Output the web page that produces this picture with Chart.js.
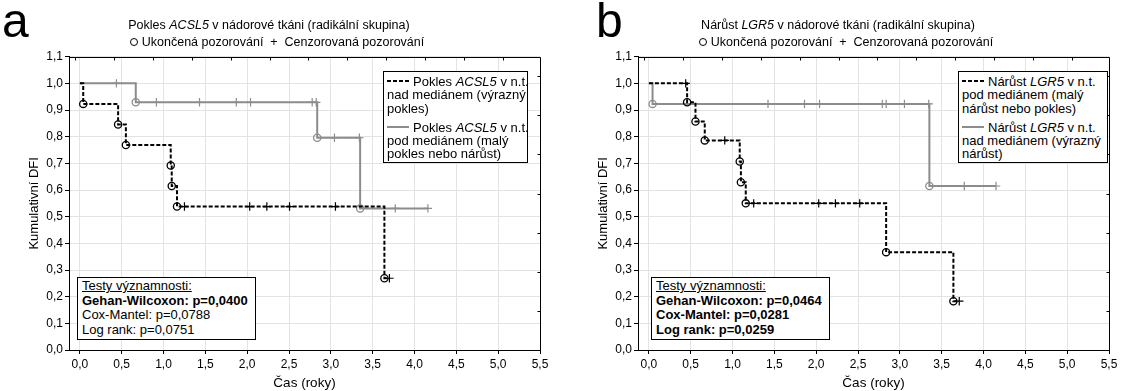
<!DOCTYPE html>
<html lang="cs">
<head>
<meta charset="UTF-8">
<title>Kumulativní DFI - ACSL5 a LGR5</title>
<script src="https://cdn.jsdelivr.net/npm/chart.js"></script>
<style>
    body { margin: 0; background: #fff; }
    #wrap {
        position: relative;
        width: 1125px;
        height: 391px;
        font-family: "Liberation Sans", Arial, sans-serif;
        color: #000;
        overflow: hidden;
    }
    #wrap canvas { position: absolute; top: 0; }
    .letter {
        position: absolute;
        top: -3px;
        font-size: 48px;
        line-height: 48px;
    }
    .title {
        position: absolute;
        width: 400px;
        text-align: center;
        font-size: 12.5px;
        line-height: 16px;
        white-space: nowrap;
    }
    .ring {
        display: inline-block;
        width: 6px;
        height: 6px;
        border: 1.2px solid #000;
        border-radius: 50%;
        vertical-align: 0px;
        margin-right: 4px;
    }
    .box {
        position: absolute;
        background: #fff;
        border: 1px solid #000;
        box-sizing: border-box;
        font-size: 13px;
        white-space: nowrap;
    }
    .legend { padding: 3px 3px; line-height: 13.3px; }
    .legend .gap { height: 6px; }
    .sample {
        display: inline-block;
        width: 22px;
        height: 2px;
        vertical-align: 4px;
        margin-right: 4px;
    }
    .sample.dash { background: repeating-linear-gradient(90deg, #000 0 4px, transparent 4px 6px); }
    .sample.solid { background: #8c8c8c; }
    .stats { padding: 1px 4px; line-height: 14.5px; }
    .stats u { text-decoration: underline; }
</style>
</head>
<body>
<div id="wrap">
    <canvas id="chart-a" width="556" height="391" style="left:0"></canvas>
    <canvas id="chart-b" width="556" height="391" style="left:569px"></canvas>

    <div class="letter" style="left:2px">a</div>
    <div class="title" style="left:69px; top:17px">Pokles <i>ACSL5</i> v nádorové tkáni (radikální skupina)</div>
    <div class="title" style="left:77px; top:34px"><span class="ring"></span>Ukončená pozorování&nbsp; +&nbsp; Cenzorovaná pozorování</div>

    <div class="letter" style="left:596px">b</div>
    <div class="title" style="left:638px; top:17px">Nárůst <i>LGR5</i> v nádorové tkáni (radikální skupina)</div>
    <div class="title" style="left:646px; top:34px"><span class="ring"></span>Ukončená pozorování&nbsp; +&nbsp; Cenzorovaná pozorování</div>

    <div class="box legend" style="left:383px; top:71px; width:145px; height:92px">
        <div><span class="sample dash"></span>Pokles <i>ACSL5</i> v n.t.</div>
        <div>nad mediánem (výrazný</div>
        <div>pokles)</div>
        <div class="gap"></div>
        <div><span class="sample solid"></span>Pokles <i>ACSL5</i> v n.t.</div>
        <div>pod mediánem (malý</div>
        <div>pokles nebo nárůst)</div>
    </div>
    <div class="box legend" style="left:958px; top:71px; width:150px; height:92px">
        <div><span class="sample dash"></span>Nárůst <i>LGR5</i> v n.t.</div>
        <div>pod mediánem (malý</div>
        <div>nárůst nebo pokles)</div>
        <div class="gap"></div>
        <div><span class="sample solid"></span>Nárůst <i>LGR5</i> v n.t.</div>
        <div>nad mediánem (výrazný</div>
        <div>nárůst)</div>
    </div>

    <div class="box stats" style="left:77px; top:277px; width:179px; height:63px">
        <div><u>Testy významnosti:</u></div>
        <div><b>Gehan-Wilcoxon: p=0,0400</b></div>
        <div>Cox-Mantel: p=0,0788</div>
        <div>Log rank: p=0,0751</div>
    </div>
    <div class="box stats" style="left:651px; top:277px; width:179px; height:63px">
        <div><u>Testy významnosti:</u></div>
        <div><b>Gehan-Wilcoxon: p=0,0464</b></div>
        <div><b>Cox-Mantel: p=0,0281</b></div>
        <div><b>Log rank: p=0,0259</b></div>
    </div>
</div>

<script>
    // axis ticks
    const xTicks = [0, 0.5, 1, 1.5, 2, 2.5, 3, 3.5, 4, 4.5, 5, 5.5];
    const xTickLabels = ['0,0', '0,5', '1,0', '1,5', '2,0', '2,5', '3,0', '3,5', '4,0', '4,5', '5,0', '5,5'];
    const yTicks = [0, 0.1, 0.2, 0.3, 0.4, 0.5, 0.6, 0.7, 0.8, 0.9, 1.0, 1.1];
    const yTickLabels = ['0,0', '0,1', '0,2', '0,3', '0,4', '0,5', '0,6', '0,7', '0,8', '0,9', '1,0', '1,1'];

    // panel a - ACSL5, dashed = nad mediánem, grey = pod mediánem
    const aHighEventTimes = [0.04, 0.457, 0.55, 1.086, 1.098, 1.161, 3.64];
    const aHighEventSurv = [0.923, 0.846, 0.769, 0.692, 0.615, 0.538, 0.269];
    const aHighCensorTimes = [1.25, 2.03, 2.235, 2.506, 3.055, 3.70];
    const aLowEventTimes = [0.668, 2.837, 3.35];
    const aLowEventSurv = [0.929, 0.796, 0.531];
    const aLowCensorTimes = [0.437, 0.915, 1.43, 1.87, 2.04, 2.777, 2.825, 3.043, 3.341, 3.77, 4.16];

    // panel b - LGR5, dashed = pod mediánem, grey = nad mediánem
    const bLowEventTimes = [0.457, 0.557, 0.668, 1.086, 1.10, 1.158, 2.836, 3.64];
    const bLowEventSurv = [0.929, 0.857, 0.786, 0.707, 0.629, 0.550, 0.367, 0.183];
    const bLowCensorTimes = [0.44, 0.907, 1.253, 2.03, 2.23, 2.52, 3.71];
    const bHighEventTimes = [0.044, 3.353];
    const bHighEventSurv = [0.923, 0.615];
    const bHighCensorTimes = [1.424, 1.86, 2.04, 2.79, 2.836, 3.055, 3.345, 3.77, 4.15];

    const GREY = '#8c8c8c';
    const BLACK = '#000';

    Chart.defaults.font.family = '"Liberation Sans", Arial, sans-serif';
    Chart.defaults.color = '#000';

    // survival level at time t (last event at or before t)
    function levelAt(evT, evS, t) {
        let s = 1;
        evT.forEach((et, i) => { if (et <= t) s = evS[i]; });
        return s;
    }

    function stepPoints(evT, evS, cT) {
        const pts = [{ x: 0, y: 1 }];
        evT.forEach((t, i) => pts.push({ x: t, y: evS[i] }));
        const end = Math.max(...cT, ...evT);
        const last = pts[pts.length - 1];
        if (end > last.x) pts.push({ x: end, y: last.y });
        return pts;
    }

    function seriesDatasets(evT, evS, cT, color, dashed) {
        return [
            {
                type: 'line',
                data: stepPoints(evT, evS, cT),
                stepped: true,
                borderColor: color,
                borderWidth: 2,
                borderDash: dashed ? [4, 2] : [],
                pointRadius: 0,
                fill: false
            },
            {
                type: 'scatter',
                data: evT.map((t, i) => ({ x: t, y: evS[i] })),
                pointStyle: 'circle',
                pointRadius: 3.6,
                borderColor: color,
                backgroundColor: 'transparent',
                borderWidth: 1.3
            },
            {
                type: 'scatter',
                data: cT.map(t => ({ x: t, y: levelAt(evT, evS, t) })),
                pointStyle: 'cross',
                pointRadius: 4.2,
                borderColor: color,
                borderWidth: 1.2
            }
        ];
    }

    // top/right frame with small inward ticks
    const framePlugin = {
        id: 'frame',
        afterDatasetsDraw(chart) {
            const { ctx, chartArea: a } = chart;
            const top = Math.round(a.top) + 0.5;
            const right = Math.round(a.right) + 0.5;
            ctx.save();
            ctx.strokeStyle = '#000';
            ctx.lineWidth = 1;
            ctx.beginPath();
            ctx.moveTo(a.left, top);
            ctx.lineTo(right, top);
            ctx.lineTo(right, a.bottom);
            for (let x = a.left + 6; x < a.right - 2; x += 38.9) {
                const px = Math.round(x) + 0.5;
                ctx.moveTo(px, top);
                ctx.lineTo(px, top + 3);
            }
            for (let y = a.bottom - 39.1; y > a.top + 2; y -= 39.1) {
                const py = Math.round(y) + 0.5;
                ctx.moveTo(right, py);
                ctx.lineTo(right - 3, py);
            }
            ctx.stroke();
            ctx.restore();
        }
    };

    function makeChart(id, datasets) {
        return new Chart(document.getElementById(id), {
            type: 'scatter',
            data: { datasets: datasets },
            options: {
                responsive: false,
                animation: false,
                events: [],
                layout: { padding: { top: 56.7, right: 16, bottom: 0, left: 0 } },
                plugins: { legend: { display: false }, tooltip: { enabled: false } },
                scales: {
                    x: {
                        type: 'linear',
                        min: -0.13,
                        max: 5.5,
                        afterBuildTicks: s => { s.ticks = xTicks.map(v => ({ value: v })); },
                        afterFit: s => { s.height = 41; },
                        ticks: {
                            autoSkip: false,
                            maxRotation: 0,
                            padding: 3,
                            font: { size: 12 },
                            callback: (v, i) => xTickLabels[i]
                        },
                        grid: { color: '#e3e3e3', tickColor: '#000', tickLength: 4 },
                        border: { color: '#000', width: 1 },
                        title: {
                            display: true,
                            text: 'Čas (roky)',
                            font: { size: 13.5 },
                            padding: { top: 0, bottom: 0 }
                        }
                    },
                    y: {
                        type: 'linear',
                        min: 0,
                        max: 1.1,
                        afterBuildTicks: s => { s.ticks = yTicks.map(v => ({ value: v })); },
                        afterFit: s => { s.width = 69; },
                        ticks: {
                            autoSkip: false,
                            padding: 2,
                            font: { size: 12 },
                            callback: (v, i) => yTickLabels[i]
                        },
                        grid: { color: '#e3e3e3', tickColor: '#000', tickLength: 4 },
                        border: { color: '#000', width: 1 },
                        title: {
                            display: true,
                            text: 'Kumulativní DFI',
                            font: { size: 13 },
                            padding: { top: 27, bottom: 0 }
                        }
                    }
                }
            },
            plugins: [framePlugin]
        });
    }

    // black dashed series first so it is drawn on top
    makeChart('chart-a', [
        ...seriesDatasets(aHighEventTimes, aHighEventSurv, aHighCensorTimes, BLACK, true),
        ...seriesDatasets(aLowEventTimes, aLowEventSurv, aLowCensorTimes, GREY, false)
    ]);
    makeChart('chart-b', [
        ...seriesDatasets(bLowEventTimes, bLowEventSurv, bLowCensorTimes, BLACK, true),
        ...seriesDatasets(bHighEventTimes, bHighEventSurv, bHighCensorTimes, GREY, false)
    ]);
</script>
</body>
</html>
